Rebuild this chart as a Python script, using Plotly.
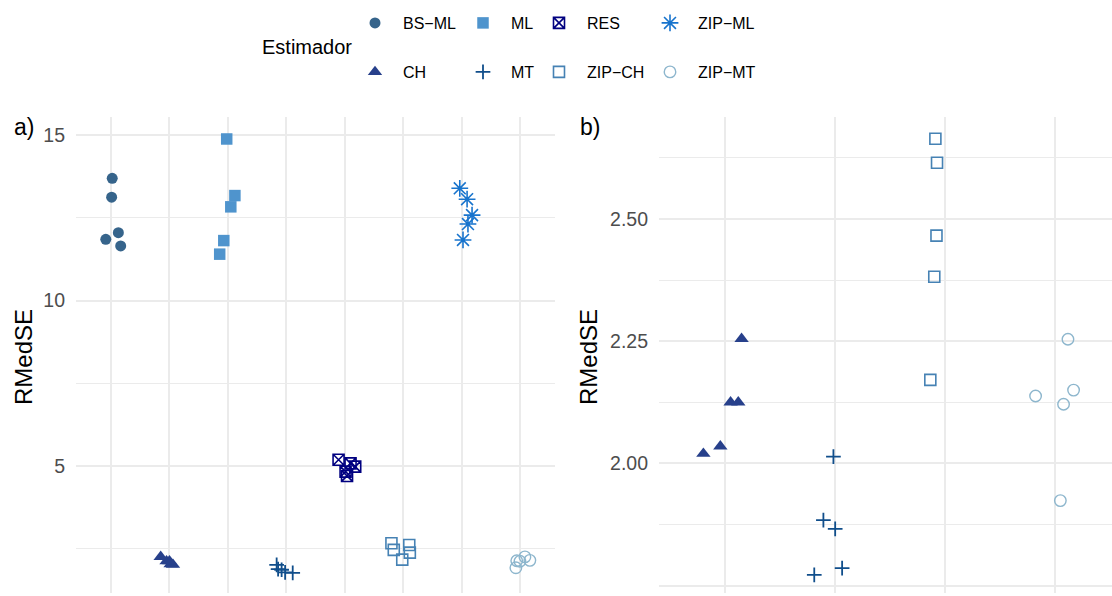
import plotly.graph_objects as go

# Estimators and their RMedSE values (five scenarios each)
estimators = ["BS-ML", "CH", "ML", "MT", "RES", "ZIP-CH", "ZIP-ML", "ZIP-MT"]
panel_b_estimators = ["CH", "MT", "ZIP-CH", "ZIP-MT"]

bs_ml = [13.69, 13.12, 12.05, 11.85, 11.65]
ch = [2.020, 2.035, 2.125, 2.125, 2.255]
ml = [14.88, 13.17, 12.83, 11.81, 11.40]
mt = [2.014, 1.884, 1.866, 1.786, 1.772]
res = [5.19, 5.08, 4.98, 4.83, 4.70]
zip_ch = [2.664, 2.615, 2.466, 2.382, 2.171]
zip_ml = [13.39, 13.06, 12.58, 12.31, 11.83]
zip_mt = [2.254, 2.150, 2.138, 2.121, 1.924]

# Horizontal jitter (in category units) used for each panel
jitter_a = {
    "BS-ML": [0.02, 0.01, 0.125, -0.09, 0.165],
    "CH": [0.06, 0.02, -0.05, 0.0, -0.15],
    "ML": [-0.02, 0.12, 0.05, -0.07, -0.14],
    "MT": [-0.165, -0.14, -0.08, -0.02, 0.11],
    "RES": [-0.105, 0.10, 0.18, 0.015, 0.04],
    "ZIP-CH": [-0.2, 0.105, -0.16, 0.115, -0.015],
    "ZIP-ML": [-0.03, 0.095, 0.18, 0.11, 0.025],
    "ZIP-MT": [0.085, 0.17, -0.055, 0.0, -0.07],
}
jitter_b = {
    "CH": [-0.197, -0.043, 0.05, 0.12, 0.15],
    "MT": [-0.016, -0.107, 0.0, 0.063, -0.19],
    "ZIP-CH": [-0.09, -0.075, -0.08, -0.1, -0.136],
    "ZIP-MT": [0.114, 0.165, -0.18, 0.074, 0.045],
}

values = {
    "BS-ML": bs_ml, "CH": ch, "ML": ml, "MT": mt,
    "RES": res, "ZIP-CH": zip_ch, "ZIP-ML": zip_ml, "ZIP-MT": zip_mt,
}

styles = {
    "BS-ML": dict(symbol="circle", color="#36648B", size=11, lw=0),
    "CH": dict(symbol="triangle-up", color="#27408B", size=12.5, lw=0),
    "ML": dict(symbol="square", color="#4F94CD", size=11.5, lw=0),
    "MT": dict(symbol="cross-thin-open", color="#104E8B", size=10.5, lw=1.8),
    "RES": dict(symbol="square-x-open", color="#000080", size=11, lw=1.6),
    "ZIP-CH": dict(symbol="square-open", color="#4682B4", size=11, lw=1.6),
    "ZIP-ML": dict(symbol="asterisk-open", color="#1874CD", size=14, lw=1.6),
    "ZIP-MT": dict(symbol="circle-open", color="#8DB6CD", size=11.5, lw=1.4),
}

# Legend grid: column / row of each entry
legend_cells = {
    "BS-ML": (0, 0), "CH": (0, 1), "ML": (1, 0), "MT": (1, 1),
    "RES": (2, 0), "ZIP-CH": (2, 1), "ZIP-ML": (3, 0), "ZIP-MT": (3, 1),
}
legend_col_x = [375, 483, 559, 670]
legend_row_y = [23, 72]

W, H = 1112, 596
FONT = "Liberation Sans, Arial, sans-serif"
GRID = "#EBEBEB"


def display_name(name):
    # labels are typeset with a true minus sign
    return name.replace("-", "\u2212")


def marker_for(name):
    s = styles[name]
    return dict(symbol=s["symbol"], color=s["color"], size=s["size"],
                line=dict(width=s["lw"], color=s["color"]))


fig = go.Figure()

for i, name in enumerate(estimators):
    xs = [i + 1 + j for j in jitter_a[name]]
    fig.add_trace(go.Scatter(
        x=xs, y=values[name], mode="markers", name=display_name(name),
        marker=marker_for(name), xaxis="x", yaxis="y",
        legend="legend" if i == 0 else f"legend{i + 1}",
        showlegend=True,
    ))

for i, name in enumerate(panel_b_estimators):
    xs = [i + 1 + j for j in jitter_b[name]]
    fig.add_trace(go.Scatter(
        x=xs, y=values[name], mode="markers", name=display_name(name),
        marker=marker_for(name), xaxis="x2", yaxis="y2",
        showlegend=False,
    ))

# One single-entry legend per cell so columns can have their own widths
legend_layout = {}
for i, name in enumerate(estimators):
    col, row = legend_cells[name]
    key = "legend" if i == 0 else f"legend{i + 1}"
    legend_layout[key] = dict(
        x=(legend_col_x[col] - 28) / W, xanchor="left",
        y=1 - legend_row_y[row] / H, yanchor="middle",
        bgcolor="rgba(0,0,0,0)", borderwidth=0,
        font=dict(family=FONT, size=16, color="#000000"),
        itemwidth=46, itemclick=False, itemdoubleclick=False,
    )

tick_font = dict(family=FONT, size=19.5, color="#4D4D4D")
y_dom = [1 - 593 / H, 1 - 117 / H]

fig.update_layout(
    width=W, height=H,
    margin=dict(l=0, r=0, t=0, b=0),
    paper_bgcolor="white", plot_bgcolor="white",
    font=dict(family=FONT),
    xaxis=dict(domain=[76 / W, 555 / W], range=[0.4, 8.6], tick0=1, dtick=1,
               showticklabels=False, ticks="", showgrid=True, gridcolor=GRID,
               gridwidth=2, zeroline=False, showline=False),
    yaxis=dict(domain=y_dom, range=[1.163, 15.544], tick0=0, dtick=5,
               tickfont=tick_font, ticks="", ticklabelstandoff=10,
               showgrid=True, gridcolor=GRID, gridwidth=2, zeroline=False,
               minor=dict(dtick=2.5, tick0=0, showgrid=True, gridcolor=GRID,
                          gridwidth=1)),
    xaxis2=dict(domain=[659 / W, 1.0], range=[0.4, 4.514], tick0=1, dtick=1,
                showticklabels=False, ticks="", showgrid=True, gridcolor=GRID,
                gridwidth=2, zeroline=False, showline=False),
    yaxis2=dict(domain=y_dom, anchor="x2", range=[1.735, 2.7086], tick0=1.75,
                dtick=0.25, tickformat=".2f", tickfont=tick_font, ticks="",
                ticklabelstandoff=10, showgrid=True, gridcolor=GRID,
                gridwidth=2, zeroline=False,
                minor=dict(dtick=0.125, tick0=1.75, showgrid=True,
                           gridcolor=GRID, gridwidth=1)),
    **legend_layout,
)

annotations = [
    dict(text="Estimador", x=260 / W, y=1 - 47 / H, xanchor="left",
         yanchor="middle", font=dict(family=FONT, size=20, color="#000000")),
    dict(text="RMedSE", x=23 / W, y=1 - 357 / H, textangle=-90,
         xanchor="center", yanchor="middle",
         font=dict(family=FONT, size=24, color="#000000")),
    dict(text="RMedSE", x=588 / W, y=1 - 357 / H, textangle=-90,
         xanchor="center", yanchor="middle",
         font=dict(family=FONT, size=24, color="#000000")),
    dict(text="a)", x=24 / W, y=1 - 127 / H, xanchor="center",
         yanchor="middle", font=dict(family=FONT, size=23, color="#000000")),
    dict(text="b)", x=590 / W, y=1 - 127 / H, xanchor="center",
         yanchor="middle", font=dict(family=FONT, size=23, color="#000000")),
]
for a in annotations:
    a.update(xref="paper", yref="paper", showarrow=False)
fig.update_layout(annotations=annotations)

fig.write_html("out.html")
